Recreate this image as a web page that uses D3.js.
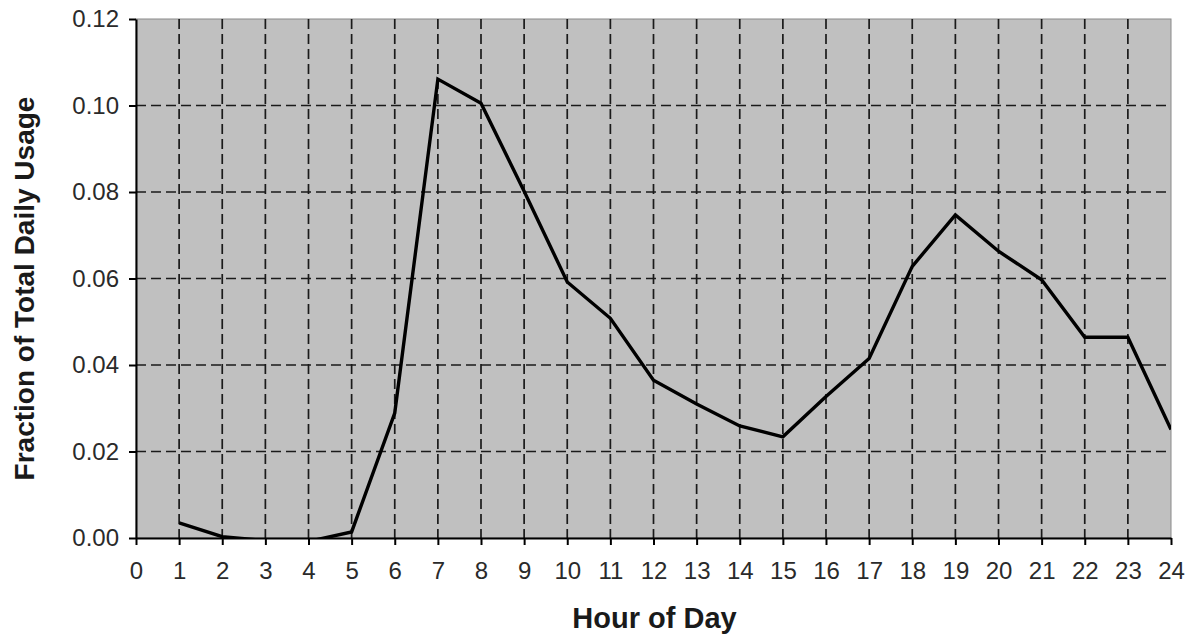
<!DOCTYPE html>
<html>
<head>
<meta charset="utf-8">
<script src="https://cdn.jsdelivr.net/npm/d3@7"></script>
<style>
  body { margin: 0; background: #fff; }
  text { font-family: "Liberation Sans", Arial, sans-serif; }
</style>
</head>
<body>
<div id="chart"></div>
<script>
// values
const hours = [1, 2, 3, 4, 5, 6, 7, 8, 9, 10, 11, 12, 13, 14, 15, 16, 17, 18, 19, 20, 21, 22, 23, 24];
const usage = [0.0035, 0.0003, -0.0006, -0.0008, 0.0014, 0.0289, 0.1061, 0.1005, 0.0802, 0.0592,
  0.0508, 0.0365, 0.0310, 0.0259, 0.0234, 0.0327, 0.0415, 0.0628, 0.0747, 0.0663,
  0.0597, 0.0464, 0.0464, 0.0251];
const xTicks = d3.range(0, 25);
const yTicks = [0, 0.02, 0.04, 0.06, 0.08, 0.10, 0.12];

const WIDTH = 1188;
const HEIGHT = 635;
const MARGIN = { LEFT: 136, RIGHT: 17, TOP: 19, BOTTOM: 97 };

const svg = d3.select("#chart")
  .append("svg")
  .attr("width", WIDTH)
  .attr("height", HEIGHT);

const x = d3.scaleLinear()
  .domain([0, 24])
  .range([MARGIN.LEFT, WIDTH - MARGIN.RIGHT]);

const y = d3.scaleLinear()
  .domain([0, 0.12])
  .range([HEIGHT - MARGIN.BOTTOM, MARGIN.TOP]);

// plot background
svg.append("rect")
  .attr("x", x(0))
  .attr("y", y(0.12))
  .attr("width", x(24) - x(0))
  .attr("height", y(0) - y(0.12))
  .attr("fill", "#c0c0c0")
  .attr("stroke", "#8a8a8a")
  .attr("stroke-width", 1);

svg.append("clipPath")
  .attr("id", "plot-clip")
  .append("rect")
  .attr("x", x(0))
  .attr("y", y(0.12))
  .attr("width", x(24) - x(0))
  .attr("height", y(0) - y(0.12));

// dashed grid
svg.append("g")
  .selectAll("line")
  .data(xTicks.filter((d) => d > 0 && d < 24))
  .join("line")
  .attr("x1", (d) => x(d))
  .attr("x2", (d) => x(d))
  .attr("y1", y(0.12))
  .attr("y2", y(0))
  .attr("stroke", "#1a1a1a")
  .attr("stroke-width", 1.7)
  .attr("stroke-dasharray", "10,5");

svg.append("g")
  .selectAll("line")
  .data(yTicks.filter((d) => d > 0 && d < 0.12))
  .join("line")
  .attr("x1", x(0))
  .attr("x2", x(24))
  .attr("y1", (d) => y(d))
  .attr("y2", (d) => y(d))
  .attr("stroke", "#1a1a1a")
  .attr("stroke-width", 1.7)
  .attr("stroke-dasharray", "10,5");

// data line
const line = d3.line()
  .x((d, i) => x(hours[i]))
  .y((d) => y(d));

svg.append("path")
  .datum(usage)
  .attr("clip-path", "url(#plot-clip)")
  .attr("fill", "none")
  .attr("stroke", "#000")
  .attr("stroke-width", 3.4)
  .attr("stroke-linejoin", "miter")
  .attr("d", line);

// axes
const xAxis = svg.append("g")
  .attr("transform", `translate(0, ${y(0)})`)
  .call(d3.axisBottom(x).tickValues(xTicks).tickFormat(d3.format("d")).tickSize(7).tickSizeOuter(0));

const yAxis = svg.append("g")
  .attr("transform", `translate(${x(0)}, 0)`)
  .call(d3.axisLeft(y).tickValues(yTicks).tickFormat(d3.format(".2f")).tickSize(7).tickSizeOuter(0));

[xAxis, yAxis].forEach((g) => {
  g.select(".domain").attr("stroke", "#000").attr("stroke-width", 2);
  g.selectAll(".tick line").attr("stroke", "#000").attr("stroke-width", 2);
  g.selectAll(".tick text")
    .attr("fill", "#2a2a2a")
    .attr("font-size", "24px")
    .attr("font-family", "'Liberation Sans', Arial, sans-serif");
});

xAxis.selectAll(".tick text").attr("dy", "0.71em").attr("y", 24);
yAxis.selectAll(".tick text").attr("x", -17);

// axis titles
svg.append("text")
  .attr("x", (x(0) + x(24)) / 2 + 1)
  .attr("y", 628)
  .attr("text-anchor", "middle")
  .attr("font-size", "29px")
  .attr("font-weight", "bold")
  .attr("fill", "#1a1a1a")
  .text("Hour of Day");

svg.append("text")
  .attr("transform", `translate(34, ${(y(0) + y(0.12)) / 2 + 10}) rotate(-90)`)
  .attr("text-anchor", "middle")
  .attr("font-size", "28px")
  .attr("font-weight", "bold")
  .attr("fill", "#1a1a1a")
  .text("Fraction of Total Daily Usage");
</script>
</body>
</html>
